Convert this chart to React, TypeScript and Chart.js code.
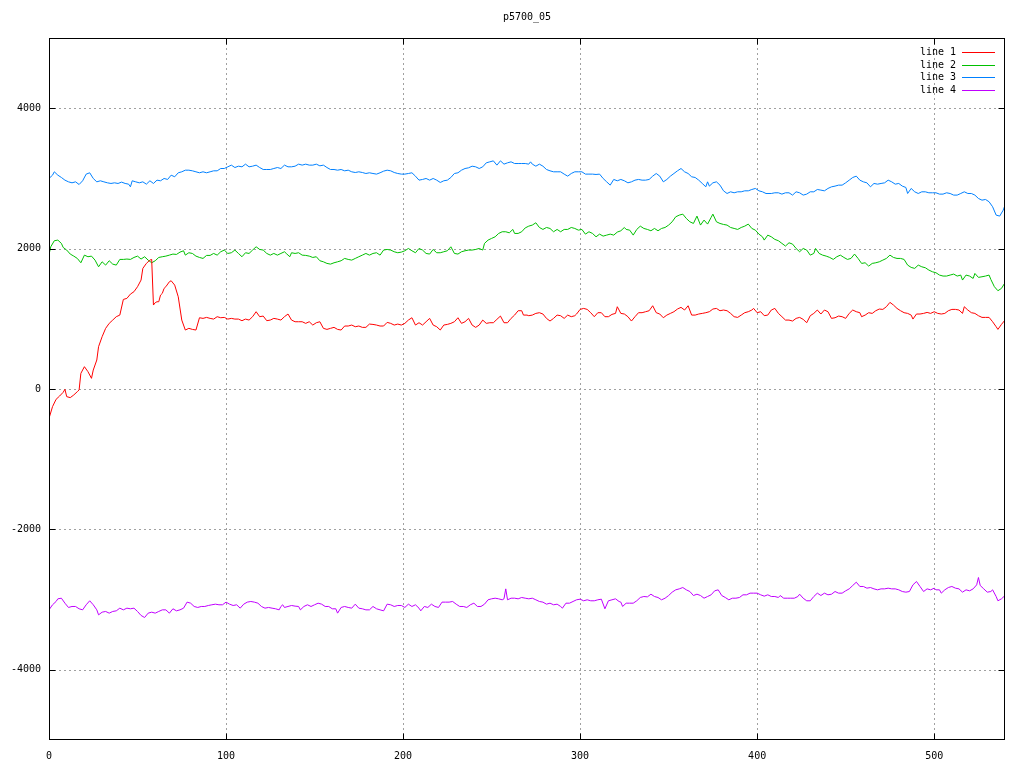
import { useEffect, useRef } from "react";
import { Chart, registerables } from "chart.js";

Chart.register(...registerables);

const TITLE = "p5700_05";
const SERIES_NAMES = ["line 1", "line 2", "line 3", "line 4"];
const SERIES_COLORS = ["#ff0000", "#00c000", "#0080ff", "#c000ff"];
const X_TICKS = [0, 100, 200, 300, 400, 500];
const Y_TICKS = [-4000, -2000, 0, 2000, 4000];

const line1: [number, number][] = [[0,-418],[2,-251],[4,-147],[6,-100],[8,-47],[9,-5],[10,-109],[12,-123],[14,-85],[16,-38],[17,-14],[18,223],[20,318],[22,247],[24,152],[25,270],[27,413],[28,603],[30,745],[32,864],[34,935],[36,982],[38,1030],[40,1053],[42,1276],[44,1291],[46,1352],[48,1386],[50,1457],[52,1552],[53,1718],[55,1789],[57,1836],[58,1846],[59,1196],[60,1230],[61,1243],[62,1243],[63,1338],[64,1362],[65,1433],[66,1457],[68,1528],[69,1542],[71,1480],[73,1314],[75,982],[77,840],[79,864],[81,849],[83,840],[85,1015],[87,1006],[89,1020],[91,1006],[93,996],[95,1030],[97,1015],[99,1020],[101,996],[103,1006],[105,996],[107,996],[109,973],[111,996],[113,982],[115,1030],[117,1101],[119,1030],[121,1039],[123,973],[125,982],[127,1006],[129,996],[131,982],[133,1030],[135,1068],[137,982],[139,958],[141,958],[143,958],[145,935],[147,958],[149,911],[151,944],[153,958],[155,864],[157,849],[159,864],[161,878],[163,849],[165,840],[167,897],[169,897],[171,911],[173,887],[175,897],[177,878],[179,878],[181,925],[183,920],[185,911],[187,897],[189,897],[191,949],[193,935],[195,911],[197,925],[199,911],[201,935],[203,982],[205,1015],[207,911],[209,944],[211,911],[213,958],[215,1006],[217,911],[219,887],[221,840],[223,911],[225,920],[227,935],[229,958],[231,1015],[233,935],[235,958],[237,1006],[239,911],[241,878],[243,911],[245,982],[247,935],[249,944],[251,944],[253,992],[255,1039],[257,944],[259,944],[261,1006],[263,1053],[265,1115],[267,1115],[268,1053],[270,1053],[271,1044],[273,1053],[275,1077],[277,1087],[279,1068],[281,1006],[283,968],[285,1006],[287,1053],[289,1044],[291,1006],[293,1053],[295,1030],[297,1044],[298,1068],[300,1134],[302,1148],[304,1134],[306,1087],[308,1030],[310,1087],[312,1087],[314,1030],[316,1030],[318,1063],[320,1077],[321,1172],[323,1077],[325,1068],[327,1030],[329,968],[331,1030],[333,1087],[335,1087],[337,1101],[339,1115],[341,1186],[343,1087],[345,1068],[347,1015],[349,1053],[351,1077],[353,1101],[355,1139],[357,1163],[359,1125],[361,1186],[363,1053],[365,1053],[367,1068],[369,1077],[371,1087],[373,1101],[375,1139],[377,1148],[379,1115],[381,1125],[383,1115],[385,1077],[387,1030],[389,1020],[391,1053],[393,1087],[395,1101],[397,1125],[398,1148],[400,1087],[402,1101],[404,1045],[406,1053],[408,1125],[410,1148],[412,1077],[414,1030],[416,982],[418,982],[420,968],[422,1006],[424,1020],[426,992],[428,944],[430,1044],[432,1077],[434,1125],[436,1068],[438,1125],[440,1101],[442,1006],[444,1015],[446,1039],[448,1030],[450,1006],[452,1077],[454,1125],[456,1101],[458,1087],[459,1030],[461,1053],[463,1087],[465,1077],[467,1115],[469,1139],[471,1134],[473,1172],[475,1234],[477,1196],[479,1148],[481,1115],[483,1087],[485,1077],[487,1053],[488,996],[490,1068],[492,1068],[494,1077],[496,1091],[498,1077],[500,1101],[502,1077],[504,1068],[506,1077],[508,1115],[510,1134],[512,1134],[514,1125],[516,1077],[517,1172],[519,1125],[521,1087],[523,1077],[525,1044],[527,1020],[529,1020],[531,1020],[533,958],[535,887],[536,849],[538,920],[540,982]];

const line2: [number, number][] = [[0,1917],[1,2026],[3,2112],[5,2121],[7,2074],[8,2017],[10,1979],[12,1922],[14,1893],[16,1860],[18,1798],[20,1907],[22,1884],[24,1893],[26,1836],[28,1741],[30,1812],[32,1765],[34,1827],[36,1779],[38,1765],[40,1846],[42,1846],[44,1851],[46,1846],[48,1874],[50,1893],[52,1851],[54,1884],[56,1836],[58,1798],[60,1827],[62,1874],[64,1884],[66,1893],[68,1907],[70,1922],[72,1917],[74,1950],[76,1969],[77,1907],[79,1941],[81,1931],[83,1893],[85,1874],[87,1860],[89,1903],[91,1903],[93,1931],[95,1907],[97,1955],[99,1979],[101,1931],[103,1941],[105,1979],[107,1931],[109,1884],[111,1941],[113,1931],[115,1979],[117,2026],[119,1988],[121,1979],[123,1931],[125,1907],[127,1931],[129,1907],[131,1931],[133,1955],[134,1931],[136,1884],[137,1941],[139,1931],[141,1941],[143,1907],[145,1903],[147,1893],[149,1874],[151,1884],[153,1827],[155,1812],[157,1789],[159,1779],[161,1798],[163,1812],[165,1827],[167,1860],[169,1846],[171,1836],[173,1860],[175,1884],[177,1907],[179,1931],[181,1907],[183,1931],[185,1941],[187,1907],[189,1979],[191,1988],[193,1979],[195,1955],[197,1941],[199,1950],[201,1969],[203,2002],[205,1969],[207,1941],[209,2002],[211,1979],[213,1931],[215,1922],[217,1988],[219,1941],[221,1941],[223,1955],[225,1969],[227,2026],[229,1931],[231,1922],[233,1955],[235,1969],[237,1979],[239,1979],[241,1988],[243,2002],[245,1979],[246,2074],[248,2121],[250,2145],[252,2168],[254,2216],[256,2240],[258,2240],[260,2225],[262,2273],[263,2216],[265,2216],[267,2240],[269,2295],[271,2320],[273,2335],[275,2368],[277,2301],[279,2273],[281,2301],[283,2287],[285,2240],[287,2273],[289,2240],[291,2273],[293,2273],[295,2301],[297,2287],[299,2263],[301,2273],[303,2206],[305,2240],[307,2216],[309,2168],[311,2206],[313,2178],[315,2192],[317,2206],[319,2192],[321,2235],[323,2254],[325,2301],[326,2273],[328,2263],[330,2192],[332,2273],[334,2320],[336,2287],[338,2273],[340,2254],[342,2287],[344,2254],[346,2287],[348,2301],[350,2335],[352,2382],[354,2453],[356,2477],[358,2491],[360,2429],[362,2382],[364,2358],[366,2463],[368,2335],[370,2406],[372,2349],[374,2444],[375,2491],[377,2382],[379,2358],[381,2344],[383,2335],[385,2301],[387,2287],[389,2273],[391,2301],[393,2320],[395,2349],[397,2287],[399,2263],[401,2206],[403,2168],[404,2121],[406,2192],[408,2168],[410,2131],[412,2112],[414,2074],[416,2036],[418,2083],[420,2064],[422,2002],[424,1955],[426,2002],[428,1979],[430,1907],[432,1931],[433,2002],[435,1931],[437,1907],[439,1893],[441,1874],[443,1846],[445,1884],[447,1907],[449,1874],[451,1846],[453,1860],[455,1922],[457,1860],[459,1789],[461,1798],[463,1751],[465,1789],[467,1798],[469,1812],[471,1836],[473,1860],[475,1907],[477,1874],[479,1860],[481,1860],[483,1846],[485,1765],[487,1732],[489,1718],[491,1765],[493,1741],[495,1727],[497,1694],[499,1670],[501,1656],[503,1623],[505,1609],[507,1609],[509,1623],[511,1637],[513,1609],[515,1623],[516,1552],[518,1623],[520,1609],[522,1575],[523,1646],[525,1590],[527,1599],[529,1609],[531,1623],[532,1561],[534,1457],[536,1400],[538,1433],[540,1514]];

const line3: [number, number][] = [[0,2999],[2,3046],[3,3094],[5,3046],[7,3013],[9,2975],[11,2951],[13,2937],[15,2951],[17,2913],[19,2966],[21,3061],[23,3080],[25,2999],[27,2951],[29,2966],[31,2951],[33,2937],[35,2928],[37,2937],[39,2928],[41,2947],[43,2928],[45,2918],[46,2880],[47,2966],[49,2951],[51,2937],[53,2951],[55,2918],[57,2966],[59,2928],[61,2975],[63,2966],[65,2999],[67,2985],[69,3046],[71,3023],[73,3080],[75,3094],[77,3117],[79,3117],[81,3108],[83,3094],[85,3080],[87,3094],[89,3080],[91,3094],[93,3108],[95,3108],[97,3141],[99,3141],[101,3165],[103,3189],[105,3155],[107,3174],[109,3165],[111,3203],[113,3165],[115,3174],[117,3189],[119,3155],[121,3127],[123,3127],[125,3127],[127,3141],[129,3155],[131,3141],[133,3189],[135,3165],[137,3165],[139,3174],[141,3203],[143,3189],[145,3203],[147,3189],[149,3189],[151,3203],[153,3179],[155,3189],[157,3155],[159,3127],[161,3127],[163,3117],[165,3127],[167,3108],[169,3117],[171,3094],[173,3084],[175,3094],[177,3084],[179,3070],[181,3080],[183,3070],[185,3061],[187,3080],[189,3103],[191,3117],[193,3108],[195,3084],[197,3070],[199,3061],[201,3061],[203,3070],[205,3080],[207,3032],[209,2975],[211,2985],[213,2999],[215,2975],[217,2999],[219,2975],[221,2942],[223,2966],[225,2975],[227,3013],[229,3070],[231,3080],[233,3117],[235,3141],[237,3151],[239,3174],[241,3165],[243,3141],[245,3165],[247,3222],[249,3236],[251,3250],[253,3189],[255,3250],[257,3203],[259,3222],[261,3236],[263,3212],[265,3212],[267,3212],[269,3212],[271,3203],[272,3236],[273,3203],[275,3174],[277,3203],[279,3174],[281,3127],[283,3108],[285,3094],[287,3094],[289,3094],[291,3061],[293,3032],[295,3070],[297,3094],[299,3094],[301,3094],[303,3061],[305,3061],[307,3061],[309,3056],[311,3061],[313,2999],[315,2951],[317,2904],[319,2985],[321,2966],[323,2985],[325,2966],[327,2937],[329,2951],[331,2975],[333,2985],[335,2975],[337,2975],[339,2985],[341,3032],[343,3070],[345,3032],[347,2951],[349,2985],[351,3032],[353,3070],[355,3108],[357,3141],[359,3094],[361,3070],[363,3023],[365,3013],[367,2975],[369,2928],[371,2880],[372,2951],[373,2890],[375,2937],[377,2951],[379,2904],[381,2823],[383,2785],[385,2809],[387,2795],[389,2809],[391,2809],[393,2823],[395,2823],[397,2842],[399,2857],[401,2823],[403,2809],[405,2785],[408,2785],[410,2795],[412,2795],[414,2776],[416,2795],[418,2795],[420,2762],[422,2809],[424,2795],[426,2762],[428,2776],[430,2809],[432,2809],[434,2842],[436,2833],[438,2823],[440,2857],[442,2880],[444,2890],[446,2904],[448,2904],[450,2937],[452,2975],[454,3013],[456,3032],[458,2975],[460,2951],[462,2937],[464,2880],[466,2928],[468,2918],[470,2928],[472,2937],[474,2975],[476,2951],[478,2918],[480,2928],[482,2890],[484,2871],[485,2785],[487,2857],[489,2809],[491,2785],[493,2809],[495,2809],[497,2795],[499,2795],[501,2795],[503,2776],[505,2776],[507,2795],[509,2785],[511,2762],[513,2762],[515,2785],[517,2809],[519,2785],[521,2785],[523,2762],[525,2714],[527,2690],[529,2700],[531,2667],[533,2596],[535,2477],[537,2463],[539,2548],[540,2619]];

const line4: [number, number][] = [[0,-3146],[2,-3074],[4,-3027],[5,-2989],[7,-2980],[9,-3051],[11,-3112],[13,-3098],[15,-3098],[17,-3131],[19,-3146],[21,-3074],[23,-3017],[25,-3074],[27,-3146],[28,-3217],[30,-3179],[32,-3169],[34,-3193],[36,-3169],[38,-3160],[40,-3122],[42,-3146],[44,-3122],[46,-3131],[48,-3122],[50,-3169],[52,-3226],[54,-3255],[56,-3193],[58,-3179],[60,-3193],[62,-3169],[64,-3146],[66,-3146],[68,-3193],[70,-3131],[72,-3160],[74,-3146],[76,-3122],[78,-3036],[80,-3051],[82,-3098],[84,-3112],[86,-3098],[88,-3098],[90,-3084],[92,-3074],[94,-3065],[96,-3074],[98,-3074],[100,-3036],[102,-3065],[104,-3084],[106,-3074],[108,-3122],[110,-3065],[112,-3036],[114,-3027],[116,-3036],[118,-3051],[120,-3098],[122,-3122],[124,-3112],[126,-3122],[128,-3131],[130,-3146],[131,-3098],[132,-3074],[133,-3112],[135,-3098],[137,-3084],[139,-3093],[141,-3098],[142,-3146],[144,-3098],[146,-3074],[148,-3098],[150,-3074],[152,-3051],[154,-3065],[156,-3098],[158,-3098],[160,-3131],[162,-3131],[163,-3193],[165,-3112],[167,-3098],[169,-3112],[171,-3122],[173,-3065],[175,-3122],[177,-3131],[179,-3146],[181,-3146],[183,-3098],[185,-3131],[187,-3146],[189,-3160],[191,-3065],[193,-3074],[195,-3098],[197,-3084],[199,-3084],[201,-3112],[203,-3065],[205,-3098],[207,-3074],[209,-3122],[210,-3160],[212,-3098],[214,-3112],[216,-3065],[218,-3098],[220,-3112],[222,-3036],[224,-3036],[226,-3036],[228,-3027],[230,-3065],[232,-3098],[234,-3098],[236,-3112],[238,-3074],[240,-3051],[242,-3098],[244,-3098],[246,-3065],[248,-3003],[250,-2989],[252,-2980],[254,-2989],[256,-3003],[257,-2989],[258,-2847],[259,-3003],[261,-2980],[263,-2980],[265,-2989],[267,-2970],[269,-2980],[271,-2989],[273,-2980],[275,-3003],[277,-3027],[279,-3036],[281,-3065],[283,-3051],[285,-3074],[287,-3065],[289,-3098],[290,-3122],[292,-3051],[294,-3051],[296,-3027],[298,-3003],[300,-2994],[302,-3017],[304,-3003],[306,-3017],[308,-3017],[310,-3003],[312,-2994],[314,-3131],[316,-3017],[318,-3003],[320,-2989],[322,-3027],[323,-3036],[324,-3098],[326,-3051],[328,-3051],[330,-3051],[332,-3017],[334,-2970],[336,-2956],[338,-2961],[340,-2923],[342,-2956],[344,-2970],[346,-3003],[348,-2980],[350,-2942],[352,-2894],[354,-2861],[356,-2847],[358,-2828],[360,-2861],[362,-2885],[364,-2942],[366,-2923],[368,-2942],[370,-2980],[372,-2956],[374,-2932],[376,-2875],[378,-2861],[380,-2942],[382,-2970],[384,-3003],[386,-2980],[388,-2980],[390,-2970],[392,-2932],[394,-2932],[396,-2908],[398,-2908],[400,-2908],[402,-2932],[404,-2951],[406,-2932],[408,-2956],[410,-2956],[412,-2970],[413,-2942],[415,-2980],[417,-2980],[419,-2980],[421,-2980],[423,-2956],[424,-2923],[426,-2980],[428,-3017],[430,-3017],[432,-2956],[434,-2908],[436,-2942],[438,-2908],[440,-2932],[442,-2923],[444,-2885],[446,-2908],[448,-2908],[450,-2875],[452,-2847],[454,-2799],[456,-2752],[458,-2813],[460,-2813],[462,-2837],[464,-2828],[466,-2847],[468,-2861],[470,-2847],[472,-2847],[474,-2837],[476,-2847],[478,-2847],[480,-2861],[482,-2885],[484,-2894],[486,-2885],[488,-2790],[490,-2742],[492,-2813],[494,-2885],[496,-2847],[498,-2861],[500,-2837],[501,-2861],[503,-2861],[504,-2908],[506,-2861],[508,-2828],[510,-2813],[512,-2837],[514,-2847],[516,-2894],[518,-2861],[520,-2875],[522,-2847],[524,-2790],[525,-2685],[526,-2799],[528,-2847],[530,-2894],[532,-2885],[533,-2861],[535,-2956],[536,-3017],[538,-2989],[540,-2942]];

const SERIES = [line1, line2, line3, line4];

const FONT = "'DejaVu Sans Mono', monospace";

const gnuplotDecor = {
  id: "gnuplotDecor",
  beforeDatasetsDraw(chart: any) {
    const { ctx, chartArea: a, scales } = chart;
    ctx.save();
    ctx.strokeStyle = "#a0a0a0";
    ctx.lineWidth = 1;
    ctx.setLineDash([2, 3]);
    for (const v of X_TICKS) {
      const px = Math.round(scales.x.getPixelForValue(v)) + 0.5;
      if (px <= a.left + 1 || px >= a.right - 1) continue;
      ctx.beginPath();
      ctx.moveTo(px, a.bottom);
      ctx.lineTo(px, a.top);
      ctx.stroke();
    }
    for (const v of Y_TICKS) {
      const py = Math.round(scales.y.getPixelForValue(v)) + 0.5;
      if (py <= a.top + 1 || py >= a.bottom - 1) continue;
      ctx.beginPath();
      ctx.moveTo(a.left, py);
      ctx.lineTo(a.right, py);
      ctx.stroke();
    }
    ctx.restore();
  },
  afterDatasetsDraw(chart: any) {
    const { ctx, chartArea: a, scales } = chart;
    ctx.save();
    ctx.strokeStyle = "#000";
    ctx.lineWidth = 1;
    ctx.setLineDash([]);
    const L = Math.round(a.left) + 0.5;
    const R = Math.round(a.right) - 0.5;
    const T = Math.round(a.top) + 0.5;
    const B = Math.round(a.bottom) - 0.5;
    ctx.strokeRect(L, T, R - L, B - T);
    const tl = 6;
    ctx.beginPath();
    for (const v of X_TICKS) {
      const px = Math.round(scales.x.getPixelForValue(v)) + 0.5;
      ctx.moveTo(px, B);
      ctx.lineTo(px, B - tl);
      ctx.moveTo(px, T);
      ctx.lineTo(px, T + tl);
    }
    for (const v of Y_TICKS) {
      const py = Math.round(scales.y.getPixelForValue(v)) + 0.5;
      ctx.moveTo(L, py);
      ctx.lineTo(L + tl, py);
      ctx.moveTo(R, py);
      ctx.lineTo(R - tl, py);
    }
    ctx.stroke();
    ctx.restore();
  },
  afterDraw(chart: any) {
    const { ctx, chartArea: a } = chart;
    ctx.save();
    ctx.fillStyle = "#000";
    ctx.font = `10px ${FONT}`;
    ctx.textBaseline = "middle";
    ctx.textAlign = "center";
    ctx.fillText(TITLE, (a.left + a.right) / 2, 17);
    const textRight = 956;
    const rowY = [52, 65, 77, 90];
    SERIES_NAMES.forEach((name, i) => {
      ctx.textAlign = "right";
      ctx.fillStyle = "#000";
      ctx.fillText(name, textRight, rowY[i]);
      ctx.strokeStyle = SERIES_COLORS[i];
      ctx.lineWidth = 1;
      ctx.beginPath();
      ctx.moveTo(962, Math.round(rowY[i]) + 0.5);
      ctx.lineTo(995, Math.round(rowY[i]) + 0.5);
      ctx.stroke();
    });
    ctx.restore();
  },
};

export default function App() {
  const canvasRef = useRef<HTMLCanvasElement | null>(null);

  useEffect(() => {
    document.body.style.margin = "0";
    const canvas = canvasRef.current;
    if (!canvas) return;
    const chart = new Chart(canvas, {
      type: "line",
      data: {
        datasets: SERIES.map((pts, i) => ({
          label: SERIES_NAMES[i],
          data: pts.map(([x, y]) => ({ x, y })),
          borderColor: SERIES_COLORS[i],
          backgroundColor: SERIES_COLORS[i],
          borderWidth: 1,
          pointRadius: 0,
          pointHoverRadius: 0,
          tension: 0,
          fill: false,
        })),
      },
      options: {
        responsive: false,
        devicePixelRatio: 1,
        animation: false,
        events: [],
        layout: { padding: { left: 0, right: 19, top: 38, bottom: 0 } },
        plugins: {
          legend: { display: false },
          title: { display: false },
          tooltip: { enabled: false },
        },
        scales: {
          x: {
            type: "linear",
            min: 0,
            max: 540,
            grid: { display: false, drawTicks: false, tickLength: 0 },
            border: { display: false },
            afterBuildTicks: (scale: any) => {
              scale.ticks = X_TICKS.map((v) => ({ value: v }));
            },
            afterFit: (scale: any) => {
              scale.height = 28;
            },
            ticks: {
              padding: 10,
              color: "#000",
              maxRotation: 0,
              autoSkip: false,
              font: { family: FONT, size: 10 },
              callback: (v: any) => String(v),
            },
          },
          y: {
            type: "linear",
            min: -5000,
            max: 5000,
            grid: { display: false, drawTicks: false, tickLength: 0 },
            border: { display: false },
            afterBuildTicks: (scale: any) => {
              scale.ticks = Y_TICKS.map((v) => ({ value: v }));
            },
            afterFit: (scale: any) => {
              scale.width = 49;
            },
            ticks: {
              padding: 8,
              color: "#000",
              autoSkip: false,
              font: { family: FONT, size: 10 },
              callback: (v: any) => String(v),
            },
          },
        },
      },
      plugins: [gnuplotDecor],
    } as any);
    return () => chart.destroy();
  }, []);

  return (
    <div style={{ position: "absolute", left: 0, top: 0, width: 1024, height: 768, background: "#fff" }}>
      <canvas ref={canvasRef} width={1024} height={768} style={{ display: "block" }} />
    </div>
  );
}
